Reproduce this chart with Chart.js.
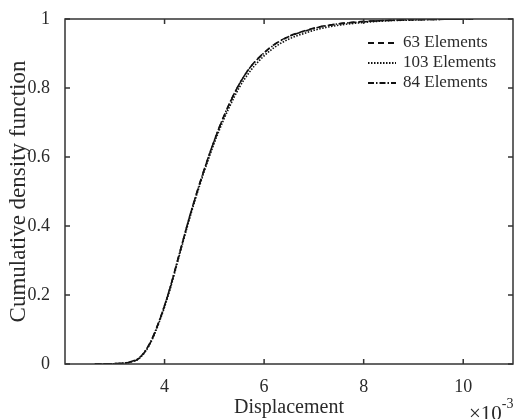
<!DOCTYPE html>
<html>
<head>
<meta charset="utf-8">
<script src="https://cdn.jsdelivr.net/npm/chart.js@4/dist/chart.umd.min.js"></script>
<style>
  html, body { margin: 0; padding: 0; background: #fff; }
</style>
</head>
<body>
<canvas id="cdfChart" width="518" height="419"></canvas>
<script>
// displacement (x 10^-3) and CDF values
const displacement = [2.6, 3.0, 3.3, 3.5, 3.7, 3.9, 4.1, 4.3, 4.5, 4.7, 4.9, 5.1, 5.3, 5.5, 5.7, 5.9, 6.2, 6.5, 6.8, 7.1, 7.5, 8.0, 8.5, 9.0, 9.5, 10.2];
const cdf63  = [0, 0.001, 0.005, 0.018, 0.058, 0.127, 0.215, 0.32, 0.425, 0.52, 0.607, 0.686, 0.753, 0.811, 0.856, 0.889, 0.926, 0.95, 0.965, 0.977, 0.986, 0.993, 0.996, 0.998, 0.999, 1];
const cdf103 = [0, 0.001, 0.005, 0.017, 0.056, 0.124, 0.211, 0.316, 0.42, 0.515, 0.601, 0.678, 0.744, 0.801, 0.845, 0.879, 0.917, 0.942, 0.958, 0.971, 0.982, 0.99, 0.995, 0.997, 0.999, 1];
const cdf84  = [0, 0.001, 0.006, 0.019, 0.059, 0.128, 0.216, 0.321, 0.426, 0.521, 0.608, 0.686, 0.754, 0.811, 0.856, 0.888, 0.925, 0.949, 0.964, 0.976, 0.986, 0.992, 0.996, 0.998, 0.999, 1];
const seriesLabels = ['63 Elements', '103 Elements', '84 Elements'];
const xTicks = [4, 6, 8, 10];
const yTicks = [0, 0.2, 0.4, 0.6, 0.8, 1];

const serif = 'Liberation Serif';
const ink = '#2a2a2a';

function pts(ys) {
    return displacement.map((x, i) => ({ x: x, y: ys[i] }));
}

// axes box, inward ticks, legend and the x10^-3 multiplier
const matlabAxes = {
    id: 'matlabAxes',
    afterDatasetsDraw(chart) {
        const { ctx, chartArea: a, scales } = chart;
        const x = scales.x, y = scales.y;
        ctx.save();
        ctx.strokeStyle = '#333';
        ctx.lineWidth = 1.5;
        ctx.setLineDash([]);
        ctx.strokeRect(a.left, a.top, a.right - a.left, a.bottom - a.top);
        ctx.beginPath();
        xTicks.forEach(v => {
            const px = x.getPixelForValue(v);
            ctx.moveTo(px, a.bottom); ctx.lineTo(px, a.bottom - 5);
            ctx.moveTo(px, a.top); ctx.lineTo(px, a.top + 5);
        });
        yTicks.forEach(v => {
            const py = y.getPixelForValue(v);
            ctx.moveTo(a.left, py); ctx.lineTo(a.left + 5, py);
            ctx.moveTo(a.right, py); ctx.lineTo(a.right - 5, py);
        });
        ctx.stroke();

        // legend
        ctx.font = '17px "' + serif + '"';
        ctx.fillStyle = ink;
        ctx.textBaseline = 'middle';
        chart.data.datasets.forEach((ds, i) => {
            const ly = 43 + i * 20;
            ctx.beginPath();
            ctx.strokeStyle = ds.borderColor;
            ctx.lineWidth = 2;
            ctx.setLineDash(ds.borderDash);
            ctx.moveTo(368, ly);
            ctx.lineTo(396, ly);
            ctx.stroke();
            ctx.fillText(ds.label, 403, ly);
        });

        // multiplier
        ctx.setLineDash([]);
        ctx.textBaseline = 'alphabetic';
        ctx.font = '21px "' + serif + '"';
        ctx.fillText('\u00d710', 469, 420);
        const w = ctx.measureText('\u00d710').width;
        ctx.font = '14px "' + serif + '"';
        ctx.fillText('-3', 469 + w, 408);
        ctx.restore();
    }
};

const ctxCdf = document.getElementById('cdfChart').getContext('2d');
const cdfChart = new Chart(ctxCdf, {
    type: 'line',
    data: {
        datasets: [
            {
                label: seriesLabels[0],
                data: pts(cdf63),
                borderColor: '#111',
                borderWidth: 1.6,
                borderDash: [6, 4]
            },
            {
                label: seriesLabels[1],
                data: pts(cdf103),
                borderColor: '#111',
                borderWidth: 1.6,
                borderDash: [1.5, 1.5]
            },
            {
                label: seriesLabels[2],
                data: pts(cdf84),
                borderColor: '#111',
                borderWidth: 1.6,
                borderDash: [6, 2, 1.5, 2]
            }
        ]
    },
    options: {
        responsive: false,
        animation: false,
        layout: { padding: { top: 19, right: 5, left: 0, bottom: 0 } },
        elements: { point: { radius: 0 }, line: { cubicInterpolationMode: 'monotone', fill: false } },
        scales: {
            x: {
                type: 'linear',
                min: 2,
                max: 11,
                afterBuildTicks: s => { s.ticks = xTicks.map(v => ({ value: v })); },
                afterFit: s => { s.height = 55; },
                grid: { display: false },
                border: { display: false },
                ticks: {
                    maxRotation: 0,
                    padding: 4,
                    color: ink,
                    font: { family: serif, size: 18 }
                },
                title: {
                    display: true,
                    text: 'Displacement',
                    color: ink,
                    padding: { top: 0, bottom: 0 },
                    font: { family: serif, size: 20, lineHeight: 1.1 }
                }
            },
            y: {
                min: 0,
                max: 1,
                afterBuildTicks: s => { s.ticks = yTicks.map(v => ({ value: v })); },
                afterFit: s => { s.width = 65; },
                grid: { display: false },
                border: { display: false },
                ticks: {
                    padding: 7,
                    color: ink,
                    font: { family: serif, size: 18 },
                    callback: v => String(Number(v.toFixed(1)))
                },
                title: {
                    display: true,
                    text: 'Cumulative density function',
                    color: ink,
                    padding: { top: 5, bottom: 0 },
                    font: { family: serif, size: 23, lineHeight: 1.2 }
                }
            }
        },
        plugins: {
            legend: { display: false },
            tooltip: { enabled: false }
        }
    },
    plugins: [matlabAxes]
});
</script>
</body>
</html>
